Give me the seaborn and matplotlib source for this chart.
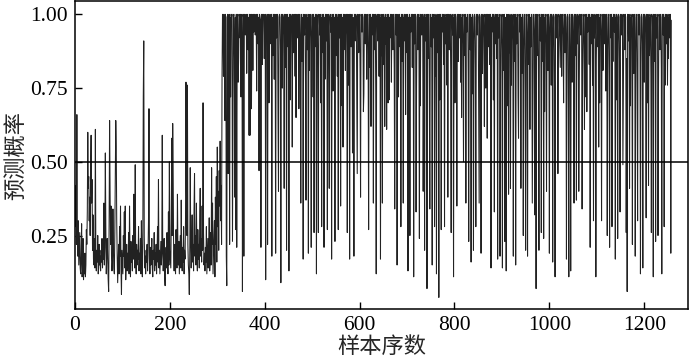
import numpy as np
import pandas as pd
import matplotlib
matplotlib.use("Agg")
import matplotlib.pyplot as plt
import seaborn as sns

# ---- data (predicted probability, in percent) ----
low_phase = [
    28, 42, 22, 66, 25, 18, 30, 15, 20, 26,
    14, 12, 18, 29, 11, 13, 24, 10, 16, 12,
    19, 11, 15, 27, 22, 33, 60, 41, 45, 30,
    38, 25, 48, 59, 36, 44, 20, 32, 17, 15,
    24, 14, 61, 18, 13, 20, 16, 25, 12, 14,
    22, 15, 18, 13, 20, 16, 24, 14, 19, 17,
    36, 15, 21, 53, 28, 12, 19, 24, 17, 10,
    6, 30, 64, 40, 22, 35, 18, 13, 16, 34,
    20, 14, 12, 26, 45, 64, 55, 30, 18, 9,
    15, 22, 12, 28, 18, 35, 14, 5, 20, 16,
    12, 25, 18, 33, 14, 35, 10, 17, 22, 13,
    19, 14, 26, 12, 35, 18, 11, 23, 16, 20,
    13, 25, 17, 39, 21, 14, 49, 18, 12, 22,
    15, 20, 17, 28, 13, 19, 16, 24, 12, 30,
    18, 11, 22, 72, 91, 25, 14, 18, 12, 20,
    16, 22, 13, 19, 30, 68, 17, 12, 21, 15,
    18, 24, 14, 11, 20, 17, 26, 13, 19, 15,
    22, 12, 18, 28, 16, 44, 14, 20, 12, 17,
    23, 15, 19, 59, 20, 13, 17, 24, 11, 8,
    16, 21, 14, 26, 18, 12, 33, 15, 50, 20,
    17, 14, 30, 58, 25, 63, 45, 19, 13, 22,
    16, 12, 27, 18, 14, 39, 20, 15, 23, 12,
    18, 25, 14, 37, 19, 13, 21, 16, 28, 12,
    20, 17, 30, 77, 40, 25, 76, 22, 15, 12,
    5, 18, 48, 24, 14, 20, 32, 16, 22, 13,
    34, 46, 18, 25, 15, 36, 20, 13, 27, 17,
    22, 14, 30, 41, 18, 24, 16, 35, 20, 70,
    26, 15, 19, 13, 21, 16, 28, 12, 18, 24,
    14, 20, 31, 13, 17, 26, 15, 48, 22, 36,
    12, 19, 25, 30, 11, 38, 22, 45, 16, 55,
    28, 40, 20, 47, 35, 57, 30, 42, 22, 79,
]

high_phase = [
    100, 99, 79, 100, 98, 64, 100, 99, 18, 8,
    99, 100, 46, 90, 100, 22, 99, 72, 100, 99,
    100, 23, 64, 99, 100, 85, 38, 99, 27, 100,
    21, 99, 100, 77, 85, 100, 99, 92, 100, 72,
    99, 100, 6, 88, 100, 18, 99, 100, 93, 99,
    100, 80, 99, 100, 88, 99, 59, 100, 59, 99,
    100, 68, 100, 99, 81, 100, 94, 99, 100, 93,
    99, 100, 74, 99, 100, 90, 99, 47, 100, 99,
    98, 21, 100, 99, 83, 100, 99, 100, 85, 99,
    100, 10, 99, 91, 100, 22, 99, 100, 70, 99,
    100, 99, 90, 100, 18, 99, 86, 100, 99, 78,
    100, 99, 19, 100, 92, 99, 100, 66, 40, 99,
    100, 99, 88, 9, 100, 99, 75, 100, 99, 93,
    41, 100, 99, 82, 100, 20, 99, 100, 89, 99,
    13, 100, 99, 71, 100, 99, 94, 55, 100, 99,
    87, 100, 99, 79, 100, 65, 99, 100, 92, 99,
    100, 68, 99, 100, 90, 36, 99, 100, 84, 99,
    17, 100, 99, 93, 100, 76, 37, 99, 100, 88,
    99, 19, 100, 81, 99, 100, 92, 21, 99, 100,
    99, 72, 100, 26, 99, 89, 100, 99, 12, 100,
    99, 84, 26, 100, 99, 93, 100, 70, 99, 28,
    100, 99, 87, 100, 21, 99, 78, 100, 99, 91,
    100, 27, 99, 100, 83, 41, 99, 100, 94, 99,
    17, 100, 99, 74, 100, 90, 99, 23, 100, 99,
    86, 100, 79, 99, 27, 100, 99, 92, 100, 35,
    99, 100, 69, 99, 55, 100, 88, 99, 100, 81,
    99, 100, 93, 26, 100, 99, 76, 100, 17, 99,
    100, 89, 99, 100, 53, 99, 84, 18, 100, 99,
    91, 100, 99, 72, 46, 100, 99, 87, 100, 99,
    80, 38, 100, 99, 94, 100, 99, 67, 73, 100,
    99, 90, 100, 99, 78, 100, 99, 86, 27, 100,
    99, 82, 100, 62, 99, 93, 100, 99, 36, 100,
    88, 99, 100, 74, 12, 99, 100, 91, 99, 100,
    79, 99, 100, 17, 99, 86, 100, 36, 99, 100,
    83, 99, 62, 100, 90, 99, 61, 100, 99, 70,
    100, 71, 99, 92, 100, 99, 77, 100, 99, 88,
    100, 99, 81, 34, 100, 99, 93, 100, 15, 99,
    100, 72, 99, 100, 89, 99, 28, 100, 99, 84,
    100, 36, 99, 91, 100, 99, 66, 100, 99, 87,
    100, 13, 99, 78, 100, 25, 99, 94, 100, 99,
    82, 100, 99, 11, 100, 90, 99, 100, 33, 75,
    99, 100, 88, 99, 100, 24, 99, 69, 100, 99,
    93, 100, 99, 40, 80, 100, 20, 99, 91, 100,
    99, 7, 100, 85, 99, 100, 73, 34, 99, 100,
    89, 99, 15, 100, 92, 99, 100, 28, 99, 79,
    100, 12, 99, 87, 100, 99, 4, 100, 71, 99,
    100, 27, 99, 94, 100, 99, 83, 100, 28, 99,
    90, 100, 99, 76, 100, 38, 99, 100, 88, 99,
    100, 81, 26, 99, 100, 93, 99, 11, 100, 99,
    70, 100, 99, 89, 35, 100, 99, 84, 100, 99,
    92, 100, 77, 99, 65, 100, 99, 90, 50, 100,
    99, 86, 100, 36, 99, 94, 100, 99, 79, 23,
    100, 99, 88, 100, 16, 99, 73, 100, 99, 20,
    91, 100, 99, 82, 28, 100, 99, 93, 100, 99,
    68, 36, 100, 99, 87, 19, 100, 99, 80, 100,
    99, 92, 62, 100, 99, 75, 100, 99, 58, 100,
    89, 99, 100, 83, 99, 100, 14, 99, 94, 100,
    99, 71, 100, 33, 99, 90, 100, 99, 85, 100,
    17, 99, 92, 100, 99, 18, 78, 100, 99, 88,
    14, 100, 99, 81, 100, 23, 99, 93, 13, 100,
    99, 69, 100, 39, 99, 87, 100, 41, 99, 76,
    100, 99, 91, 18, 100, 99, 84, 100, 15, 99,
    90, 100, 99, 72, 58, 100, 99, 94, 100, 41,
    99, 80, 100, 99, 25, 88, 100, 99, 74, 20,
    100, 99, 92, 18, 100, 99, 83, 100, 61, 99,
    89, 100, 99, 36, 70, 100, 99, 93, 32, 100,
    99, 7, 100, 86, 99, 100, 78, 20, 99, 100,
    91, 99, 26, 100, 84, 99, 100, 24, 99, 67,
    100, 99, 90, 40, 100, 99, 81, 100, 99, 19,
    94, 100, 99, 76, 100, 99, 16, 88, 100, 99,
    73, 11, 100, 99, 92, 100, 99, 46, 85, 100,
    99, 90, 82, 100, 99, 79, 100, 99, 93, 70,
    100, 99, 87, 100, 99, 17, 91, 100, 99, 68,
    11, 100, 99, 84, 13, 100, 99, 77, 100, 99,
    92, 36, 100, 99, 86, 100, 37, 99, 90, 100,
    99, 40, 74, 100, 99, 93, 100, 99, 34, 81,
    100, 99, 88, 61, 100, 99, 72, 100, 67, 99,
    94, 100, 99, 83, 100, 21, 99, 90, 100, 99,
    76, 100, 30, 99, 92, 100, 99, 11, 85, 100,
    99, 89, 100, 55, 99, 70, 100, 99, 93, 30,
    100, 99, 81, 100, 99, 90, 100, 99, 74, 100,
    99, 25, 88, 100, 99, 79, 21, 100, 99, 92,
    100, 28, 99, 84, 100, 99, 94, 100, 17, 99,
    71, 100, 99, 24, 90, 100, 99, 82, 33, 100,
    99, 93, 100, 99, 49, 76, 100, 99, 88, 100,
    99, 26, 85, 6, 100, 99, 91, 100, 41, 99,
    69, 100, 99, 92, 22, 100, 99, 80, 100, 99,
    18, 87, 100, 99, 74, 30, 100, 99, 93, 100,
    99, 12, 83, 100, 99, 90, 14, 100, 99, 77,
    100, 99, 94, 31, 100, 99, 70, 100, 42, 99,
    86, 100, 99, 79, 26, 100, 99, 91, 11, 100,
    99, 84, 100, 23, 99, 92, 100, 99, 25, 73,
    100, 99, 88, 100, 99, 81, 12, 100, 99, 93,
    100, 28, 99, 76, 100, 99, 90, 100, 76, 99,
    85, 100, 99, 92, 100, 19, 98,
]

threshold = 0.5
x_ticks = [0, 200, 400, 600, 800, 1000, 1200]
y_ticks = [0.25, 0.50, 0.75, 1.00]
x_label = "样本序数"
y_label = "预测概率"

prob = np.array(low_phase + high_phase, dtype=float) / 100.0
df = pd.DataFrame({"idx": np.arange(1, len(prob) + 1), "prob": prob})

# ---- plotting ----
sns.set_style("ticks")
plt.rcParams["font.family"] = ["Liberation Serif", "Noto Sans CJK SC", "DejaVu Sans"]
plt.rcParams["axes.unicode_minus"] = False

fig = plt.figure(figsize=(6.91, 3.60), dpi=100)
ax = fig.add_axes([0.1085, 0.141, 0.887, 0.856])

sns.lineplot(data=df, x="idx", y="prob", ax=ax, color="#222222",
             linewidth=0.75, estimator=None, sort=False)
ax.axhline(threshold, color="black", linewidth=1.1)

ax.set_xlim(0, 1292)
ax.set_ylim(0, 1.045)
ax.set_xticks(x_ticks)
ax.set_xticklabels([str(v) for v in x_ticks])
ax.set_yticks(y_ticks)
ax.set_yticklabels([f"{v:.2f}" for v in y_ticks])
ax.tick_params(direction="in", length=5, width=1, labelsize=15.5,
               colors="black", pad=5)
for s in ax.spines.values():
    s.set_visible(True)
    s.set_color("black")
    s.set_linewidth(1.1)

ax.set_xlabel(x_label, fontsize=16, family=["Noto Sans CJK SC"], labelpad=0)
ax.set_ylabel(y_label, fontsize=16, family=["Noto Sans CJK SC"], labelpad=2)

fig.savefig("out.png", dpi=100)
